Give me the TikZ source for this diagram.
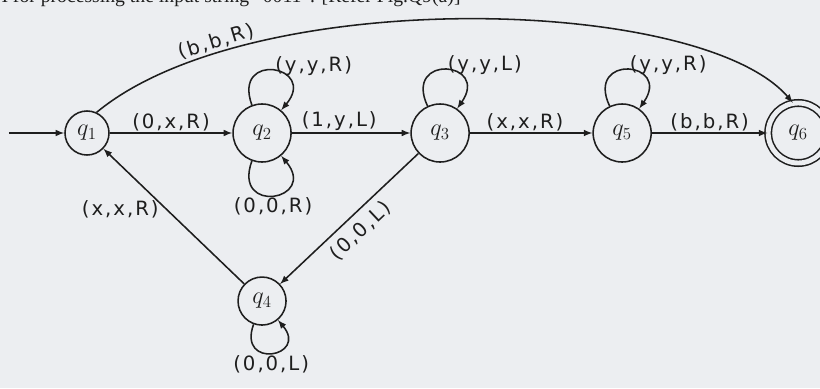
\documentclass[tikz,border=0pt]{standalone}
\usepackage{fontspec}
\setmainfont{DejaVu Sans}
\newfontfamily\headfont{Liberation Serif}
\newfontfamily\handfont[LetterSpace=10]{DejaVu Sans}
\usetikzlibrary{positioning}
\definecolor{paper}{HTML}{ECEEF1}
\definecolor{ink}{HTML}{1E1E1E}
\tikzset{
  state/.style={draw=ink,circle,line width=1.1pt,minimum size=1.45cm,inner sep=0pt,font=\fontsize{18}{18}\selectfont},
  accept/.style={double=paper,double distance=3.5pt},
  lbl/.style={font=\handfont\fontsize{14}{14}\selectfont,text=ink,inner sep=1pt},
  looplbl/.style={lbl,anchor=south west,pos=0.5,yshift=-5pt},
  selfloop/.style={loop,min distance=0pt,looseness=5}
}

\begin{document}
\begin{tikzpicture}[x=0.025cm,y=-0.025cm,on grid,>=latex,ink,line width=1.1pt]
  \path[fill=paper,use as bounding box] (0,0) rectangle (820,388);
  \clip (0,0) rectangle (820,388);
  \node[anchor=base east,font=\headfont\fontsize{14}{14}\selectfont,text=ink] (head) at (466,3) {TM for processing the input string “0011”. [Refer Fig.Q9(a)]};

  \node[state,minimum size=1.1cm] (q1) at (87,133) {$q_1$};
  \node[state,right=4.375cm of q1] (q2) {$q_2$};
  \node[state,right=4.45cm of q2] (q3) {$q_3$};
  \node[state,right=4.55cm of q3] (q5) {$q_5$};
  \node[state,accept,minimum size=1.5cm,right=4.4cm of q5] (q6) {$q_6$};
  \node[state,minimum size=1.2cm,below=4.2cm of q2] (q4) {$q_4$};
  \coordinate[left=1.95cm of q1] (start);

  \draw[->] (start) -- (q1);
  \draw[->] (q1) -- node[lbl,above] (l12) {(0,x,R)} (q2);
  \draw[->] (q2) -- node[lbl,above,pos=0.4] (l23) {(1,y,L)} (q3);
  \draw[->] (q3) -- node[lbl,above,pos=0.45] (l35) {(x,x,R)} (q5);
  \draw[->] (q5) -- node[lbl,above,pos=0.5] (l56) {(b,b,R)} (q6);
  \draw[->] (q1.65) .. controls (250,-15) and (700,-5) .. node[lbl,above,sloped,pos=0.2] (l16) {(b,b,R)} (q6.100);
  \draw[->] (q4) -- node[lbl,left=0.15cm,pos=0.55] (l41) {(x,x,R)} (q1);
  \draw[<-] (q4) -- node[lbl,below=4pt,sloped,pos=0.5] (l34) {(0,0,L)} (q3);

  % self loops
  \draw[->] (q2) to[selfloop,out=110,in=50] node[looplbl] (l22a) {(y,y,R)} (q2);
  \draw[->] (q2) to[selfloop,out=250,in=310] node[lbl,below,pos=0.5] (l22b) {(0,0,R)} (q2);
  \draw[->] (q3) to[selfloop,out=115,in=55] node[looplbl] (l33) {(y,y,L)} (q3);
  \draw[->] (q5) to[selfloop,out=115,in=55] node[looplbl] (l55) {(y,y,R)} (q5);
  \draw[->] (q4) to[selfloop,out=250,in=310] node[lbl,below,pos=0.5] (l44) {(0,0,L)} (q4);
\end{tikzpicture}
\end{document}
